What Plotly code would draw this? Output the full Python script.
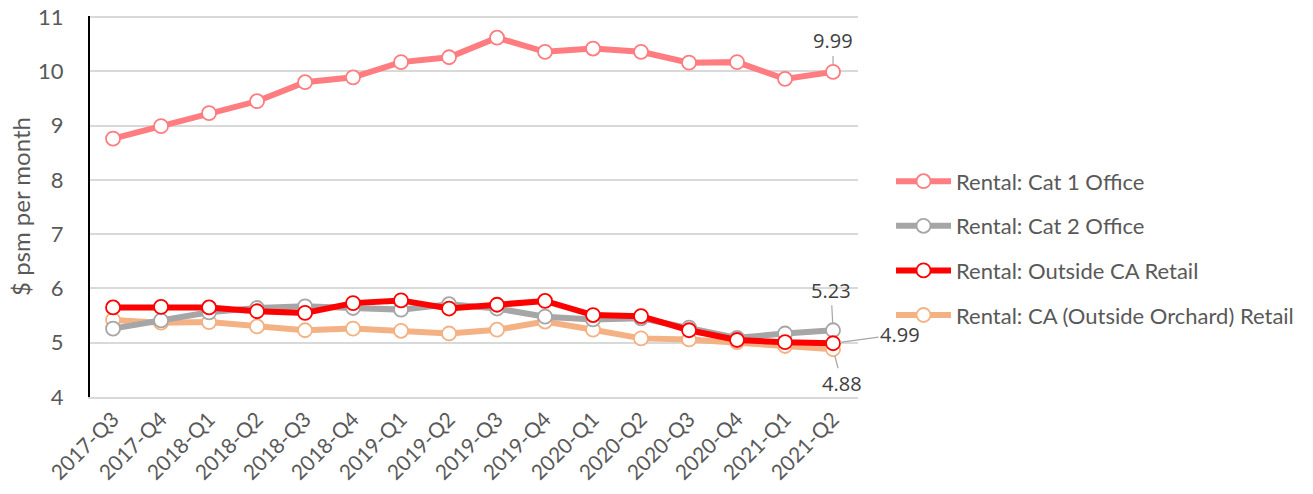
import plotly.graph_objects as go

quarters = ["2017-Q3", "2017-Q4", "2018-Q1", "2018-Q2", "2018-Q3", "2018-Q4",
            "2019-Q1", "2019-Q2", "2019-Q3", "2019-Q4", "2020-Q1", "2020-Q2",
            "2020-Q3", "2020-Q4", "2021-Q1", "2021-Q2"]

cat1_office = [8.76, 8.99, 9.23, 9.45, 9.80, 9.89, 10.17, 10.26, 10.62, 10.36,
               10.42, 10.36, 10.16, 10.17, 9.86, 9.99]
cat2_office = [5.26, 5.41, 5.56, 5.64, 5.67, 5.64, 5.61, 5.71, 5.63, 5.48,
               5.43, 5.45, 5.28, 5.09, 5.17, 5.23]
outside_ca_retail = [5.65, 5.66, 5.65, 5.58, 5.55, 5.73, 5.78, 5.63, 5.70, 5.77,
                     5.51, 5.49, 5.23, 5.05, 5.01, 4.99]
ca_outside_orchard_retail = [5.42, 5.37, 5.38, 5.30, 5.23, 5.26, 5.22, 5.17, 5.24, 5.39,
                             5.24, 5.08, 5.06, 5.01, 4.94, 4.88]

series = [
    ("Rental: Cat 1 Office", cat1_office, "#FF7C80"),
    ("Rental: Cat 2 Office", cat2_office, "#A6A6A6"),
    ("Rental: Outside CA Retail", outside_ca_retail, "#FF0000"),
    ("Rental: CA (Outside Orchard) Retail", ca_outside_orchard_retail, "#F4B183"),
]

FONT = "Lato"
TXT = "#595959"

fig = go.Figure()
draw_order = [3, 1, 2, 0]
for i in draw_order:
    name, vals, col = series[i]
    fig.add_trace(go.Scatter(
        x=quarters, y=vals, name=name, mode="lines+markers",
        line=dict(color=col, width=6),
        marker=dict(symbol="circle", size=14, color="white",
                    line=dict(color=col, width=1.8)),
        legendrank=i + 1, legendgroup=name,
    ))

ann_font = dict(family="Open Sans", size=20, color="#404040")
labels = [
    (quarters[-1], cat1_office[-1], "9.99", 0, -31),
    (quarters[-1], cat2_office[-1], "5.23", -2, -40),
    (quarters[-1], outside_ca_retail[-1], "4.99", 67, -9),
    (quarters[-1], ca_outside_orchard_retail[-1], "4.88", 9, 34),
]
for x, y, t, ax, ay in labels:
    fig.add_annotation(x=x, y=y, text=t, showarrow=True, arrowhead=0,
                       arrowwidth=1.2, arrowcolor="#A6A6A6", ax=ax, ay=ay,
                       standoff=7, font=ann_font)

fig.update_layout(
    width=1313, height=494,
    margin=dict(l=90, r=455, t=16, b=97),
    paper_bgcolor="white", plot_bgcolor="white",
    font=dict(family=FONT, size=20, color=TXT),
    showlegend=True,
    legend=dict(x=1.043, y=0.39, xanchor="left", yanchor="middle",
                font=dict(family=FONT, size=22, color=TXT),
                tracegroupgap=13, itemwidth=55, traceorder="grouped"),
)
fig.update_xaxes(
    type="category", range=[-0.48, 15.52], showgrid=False, automargin=False,
    showline=True, linecolor="#D9D9D9", linewidth=1.5,
    tickangle=-45, tickfont=dict(family=FONT, size=21, color=TXT),
    ticks="", zeroline=False,
)
fig.update_yaxes(
    range=[4, 11.02], tick0=4, dtick=1, showgrid=True, gridcolor="#D9D9D9", gridwidth=1.5,
    showline=True, linecolor="black", linewidth=2, zeroline=False, automargin=False,
    tickfont=dict(family=FONT, size=22, color=TXT), ticks="", ticklabelstandoff=20,
    ticklabeloverflow="allow",
    title=dict(text="$ psm per month", font=dict(family=FONT, size=24, color=TXT),
               standoff=1),
)

fig.write_html("out.html",
               config={"displayModeBar": False},
               post_script="document.body.style.margin='0';")
